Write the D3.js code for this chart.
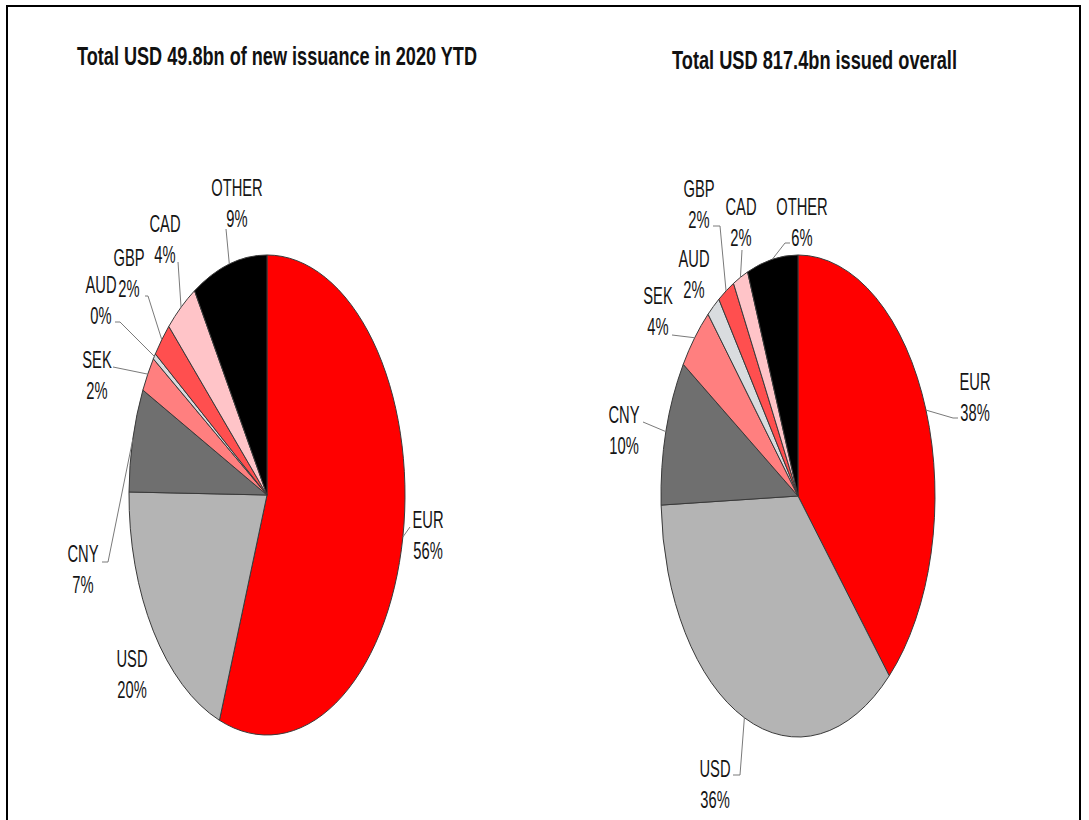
<!DOCTYPE html>
<html>
<head>
<meta charset="utf-8">
<script src="https://cdn.jsdelivr.net/npm/d3@7/dist/d3.min.js"></script>
<style>
  html, body { margin: 0; padding: 0; background: #fff; }
  svg { display: block; }
  text { font-family: "Liberation Sans", Arial, sans-serif; }
</style>
</head>
<body>
<svg id="chart" width="1089" height="820"></svg>
<script>
// ---------- data ----------
const categories = ["EUR", "USD", "CNY", "SEK", "AUD", "GBP", "CAD", "OTHER"];
const ytdValues = [55.6, 19.6, 7.0, 2.4, 0.4, 2.4, 3.8, 8.8];       // % of USD 49.8bn new issuance 2020 YTD
const overallValues = [38.4, 36.0, 9.8, 4.4, 1.6, 2.0, 1.8, 6.0];   // % of USD 817.4bn issued overall
const titles = ["Total USD 49.8bn of new issuance in 2020 YTD", "Total USD 817.4bn issued overall"];

// ---------- style / layout ----------
const colors = ["#ff0000", "#b4b4b4", "#6f6f6f", "#ff7f7f", "#d9dcdf", "#ff4f4f", "#ffc4c8", "#000000"];
const pies = [
  { values: ytdValues, cx: 267, cy: 495, rx: 138, ry: 240, title: titles[0], titleX: 77, titleY: 65, titleW: 400,
    labels: {
      EUR:   { x: 428, y: 528, lead: [[410, 527]] },
      USD:   { x: 132, y: 667, lead: null },
      CNY:   { x: 83,  y: 562, lead: [[102, 562], [108, 562]] },
      SEK:   { x: 97,  y: 368, lead: [[113, 367]] },
      AUD:   { x: 101, y: 293, lead: [[115, 322], [120, 322]] },
      GBP:   { x: 129, y: 266, lead: [[145, 296], [148, 296]] },
      CAD:   { x: 165, y: 232, lead: [[178, 262]] },
      OTHER: { x: 237, y: 196, lead: [[226, 229]] }
    } },
  { values: overallValues, cx: 798, cy: 496, rx: 137, ry: 241, title: titles[1], titleX: 672, titleY: 69, titleW: 285,
    labels: {
      EUR:   { x: 975, y: 390, lead: [[958, 418], [953, 418]] },
      USD:   { x: 715, y: 777, lead: [[733, 775], [740, 775]] },
      CNY:   { x: 624, y: 423, lead: [[643, 422]] },
      SEK:   { x: 658, y: 304, lead: [[672, 335]] },
      AUD:   { x: 694, y: 267, lead: null },
      GBP:   { x: 699, y: 197, lead: [[713, 226], [720, 226]] },
      CAD:   { x: 741, y: 215, lead: [[742, 250]] },
      OTHER: { x: 802, y: 215, lead: [[790, 243], [785, 243]] }
    } }
];

const svg = d3.select("#chart");

// frame
svg.append("rect")
  .attr("x", 7).attr("y", 6).attr("width", 1073).attr("height", 840)
  .attr("fill", "none").attr("stroke", "#000").attr("stroke-width", 2);

const color = d3.scaleOrdinal().domain(categories).range(colors);
const pie = d3.pie().sort(null).value(d => d.value);
const R = 100;
const arc = d3.arc().innerRadius(0).outerRadius(R);

pies.forEach(p => {
  const data = categories.map((c, i) => ({ cat: c, value: p.values[i] }));
  const arcs = pie(data);
  const sx = p.rx / R, sy = p.ry / R;

  // title
  svg.append("text")
    .attr("x", p.titleX).attr("y", p.titleY)
    .attr("textLength", p.titleW).attr("lengthAdjust", "spacingAndGlyphs")
    .attr("font-weight", "bold").attr("font-size", 26).attr("fill", "#111")
    .text(p.title);

  // slices (elliptical pie)
  const g = svg.append("g").attr("transform", `translate(${p.cx},${p.cy}) scale(${sx},${sy})`);
  g.selectAll("path").data(arcs).join("path")
    .attr("d", arc)
    .attr("fill", d => color(d.data.cat))
    .attr("stroke", "#3a3a3a")
    .attr("stroke-width", 1)
    .attr("vector-effect", "non-scaling-stroke");

  // labels + leader lines
  arcs.forEach(a => {
    const L = p.labels[a.data.cat];
    const mid = (a.startAngle + a.endAngle) / 2;
    const ex = p.cx + p.rx * Math.sin(mid);
    const ey = p.cy - p.ry * Math.cos(mid);
    if (L.lead) {
      const pts = L.lead.concat([[ex, ey]]);
      svg.append("path")
        .attr("d", d3.line()(pts))
        .attr("fill", "none").attr("stroke", "#7a7a7a").attr("stroke-width", 1);
    }
    const t = svg.append("g").attr("transform", `translate(${L.x},${L.y}) scale(0.64,1)`);
    t.append("text").attr("text-anchor", "middle").attr("font-size", 23).attr("fill", "#151515")
      .text(a.data.cat);
    t.append("text").attr("text-anchor", "middle").attr("y", 31).attr("font-size", 23).attr("fill", "#151515")
      .text(Math.round(a.data.value) + "%");
  });
});
</script>
</body>
</html>
